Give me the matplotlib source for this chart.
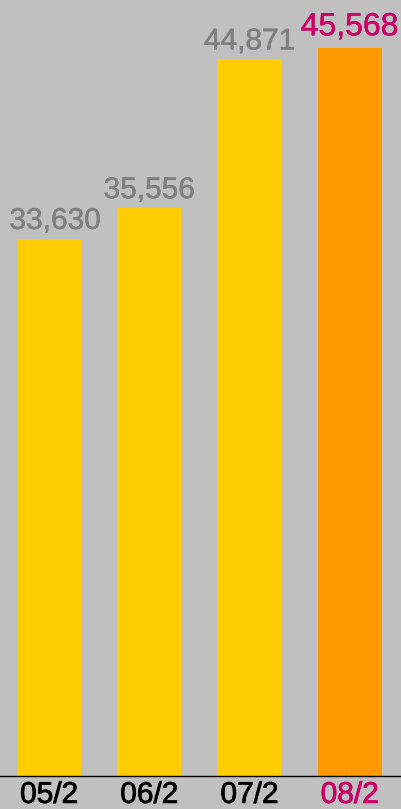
import matplotlib
matplotlib.use("Agg")
import matplotlib.pyplot as plt
import matplotlib.patheffects as pe

# ── Data ─────────────────────────────────────
months = ["05/2", "06/2", "07/2", "08/2"]
values = [33630, 35556, 44871, 45568]

bar_color = "#FFCC00"
last_color = "#FF9900"
label_gray = "#7F7F7F"
highlight = "#CC0066"
bg = "#C0C0C0"

plt.rcParams["font.family"] = ["Liberation Sans", "DejaVu Sans"]

fig = plt.figure(figsize=(4.01, 8.09), dpi=100, facecolor=bg)
ax = fig.add_axes([0, 33 / 809, 1, 776 / 809])
ax.set_facecolor(bg)

x = list(range(len(months)))
colors = [bar_color] * (len(months) - 1) + [last_color]
bars = ax.bar(x, values, width=0.64, color=colors)

ax.set_xlim(-0.49, 3.513)
ax.set_ylim(0, 48590)

# value labels on top of each bar
for i, (bar, v) in enumerate(zip(bars, values)):
    last = i == len(values) - 1
    col = highlight if last else label_gray
    shift = 6 if i == 0 else 0   # first label nudged away from the left edge
    ax.annotate(
        f"{v:,}",
        (bar.get_x() + bar.get_width() / 2, v),
        xytext=(shift, 6 if last else 4), textcoords="offset pixels",
        ha="center", va="bottom",
        fontsize=23 if last else 21.5,
        color=col,
        path_effects=[pe.withStroke(linewidth=0.35, foreground=col)],
    )

ax.set_xticks(x)
ax.set_xticklabels(months, fontsize=21.5)
for i, t in enumerate(ax.get_xticklabels()):
    col = highlight if i == len(months) - 1 else "black"
    t.set_color(col)
    t.set_path_effects([pe.withStroke(linewidth=0.6, foreground=col)])
ax.tick_params(axis="x", length=0, pad=3.5)
ax.set_yticks([])

for side in ["top", "left", "right"]:
    ax.spines[side].set_visible(False)
ax.spines["bottom"].set_color("black")
ax.spines["bottom"].set_linewidth(1)

fig.savefig("out.png", dpi=100, facecolor=bg)
